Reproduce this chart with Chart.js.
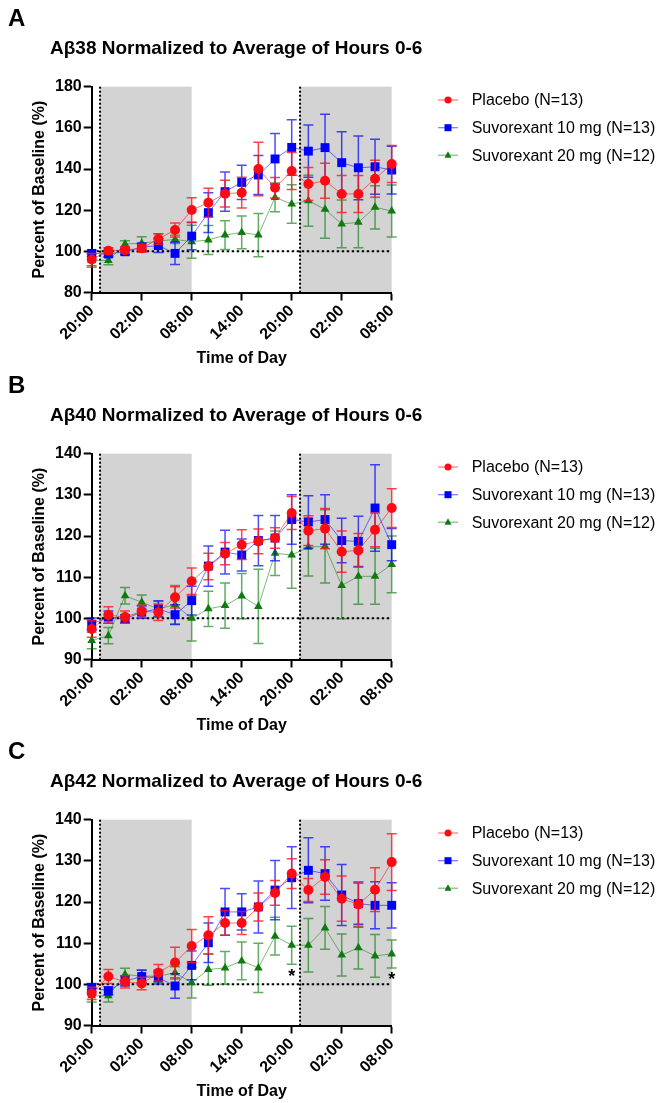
<!DOCTYPE html>
<html>
<head>
<meta charset="utf-8">
<title>Abeta normalized</title>
<script src="https://cdn.jsdelivr.net/npm/chart.js@4.4.0/dist/chart.umd.min.js"></script>
<style>
  body { margin: 0; background: #fff; }
  #page { position: relative; width: 659px; height: 1103px; font-family: 'Liberation Sans', Arial, sans-serif; color: #000; }
  .panel { position: absolute; left: 0; width: 659px; height: 367px; }
  .letter { position: absolute; left: 8px; top: 6px; font-size: 24px; line-height: 24px; font-weight: bold; }
  .title { position: absolute; left: 50px; top: 38px; font-size: 19px; line-height: 19px; font-weight: bold; white-space: nowrap; }
  .panel canvas { position: absolute; left: 0; top: 0; }
</style>
</head>
<body>
<div id="page">
  <div class="panel" style="top:0px">
    <canvas id="chartA" width="659" height="367"></canvas>
    <div class="letter">A</div>
    <div class="title">Aβ38 Normalized to Average of Hours 0-6</div>
  </div>
  <div class="panel" style="top:366.7px">
    <canvas id="chartB" width="659" height="367"></canvas>
    <div class="letter">B</div>
    <div class="title">Aβ40 Normalized to Average of Hours 0-6</div>
  </div>
  <div class="panel" style="top:733.3px">
    <canvas id="chartC" width="659" height="367"></canvas>
    <div class="letter">C</div>
    <div class="title">Aβ42 Normalized to Average of Hours 0-6</div>
  </div>
</div>

<script>
// hours after 20:00, one sample every 2 h
var hours = [0, 2, 4, 6, 8, 10, 12, 14, 16, 18, 20, 22, 24, 26, 28, 30, 32, 34, 36];
var xTickLabels = ['20:00', '02:00', '08:00', '14:00', '20:00', '02:00', '08:00'];
var seriesNames = ['Placebo (N=13)', 'Suvorexant 10 mg (N=13)', 'Suvorexant 20 mg (N=12)'];
var nights = [[1, 12], [25, 36]];
var lightsOff = [1, 25];
var baselineLevel = 100;

// A - Abeta38
var ab38Placebo    = [96, 100.3, 100.6, 101.5, 106, 110.4, 120.1, 123.6, 128, 128.5, 140, 130.9, 139, 132.7, 134.3, 127.9, 127.9, 135.3, 142.4];
var ab38PlaceboErr = [3, 1.5, 1.5, 2, 2.5, 3.4, 6, 7, 6.5, 7.5, 13, 5, 9, 8, 8.5, 9, 9, 9, 9];
var ab38Suvo10     = [99, 98.7, 99.8, 102, 102.8, 99, 107.4, 118.8, 129, 133.5, 137.1, 144.9, 150.5, 148.7, 150.4, 143.1, 140.6, 141.1, 139.5];
var ab38Suvo10Err  = [1.5, 1.5, 1.5, 2, 3.4, 5.4, 6.6, 9.7, 9.5, 8.3, 9.5, 12.3, 13.5, 12.7, 16.2, 15, 15.5, 13.4, 11.6];
var ab38Suvo20     = [95.5, 95.5, 103.6, 103.9, 105, 105.8, 104.7, 105.5, 107.9, 109.2, 107.9, 126.2, 123, 124.6, 120.4, 113.3, 114.1, 121.4, 119.6];
var ab38Suvo20Err  = [3.2, 2, 1.5, 3.2, 3.5, 2, 8, 7, 7, 8, 10.5, 7, 9.3, 12.4, 14, 11.6, 12.4, 10.5, 12.6];

// B - Abeta40
var ab40Placebo    = [97.4, 100.8, 100.3, 101.7, 101.5, 105.1, 109, 112.6, 115.7, 117.9, 118.7, 119.5, 125.6, 121.3, 121.8, 116.2, 116.5, 121.5, 126.8];
var ab40PlaceboErr = [2, 2, 1.5, 1.5, 2, 2.6, 3.2, 3.2, 2.7, 3.6, 3, 2.5, 4, 3.6, 4.9, 5, 4.1, 4.1, 4.7];
var ab40Suvo10     = [98.6, 100.3, 99.9, 101.5, 102.3, 100.9, 104.3, 112.7, 116.1, 115.4, 118.9, 119.5, 124, 123.4, 124, 118.9, 118.7, 126.8, 117.9];
var ab40Suvo10Err  = [1.5, 1.5, 1, 1.5, 2, 2.4, 3.5, 4.9, 5.3, 3.9, 6.1, 5.5, 6, 6.4, 6, 5.4, 6.1, 10.5, 3.9];
var ab40Suvo20     = [94.6, 95.8, 105.5, 103.9, 102.3, 103.3, 100, 102.3, 103.1, 105.4, 102.9, 115.8, 115.4, 117.3, 117.5, 108, 110.2, 110.2, 113.1];
var ab40Suvo20Err  = [2, 2, 2, 1.8, 1.8, 4.7, 5.5, 4.3, 5.5, 5.5, 9, 5.4, 8.1, 7, 8.9, 8.1, 6.8, 6.8, 6.9];

// C - Abeta42
var ab42Placebo    = [97.8, 101.9, 100.6, 100.2, 102.8, 105.3, 109.3, 111.9, 114.9, 114.9, 118.8, 122.2, 126.9, 122.9, 126.1, 120.8, 119.4, 123, 129.7];
var ab42PlaceboErr = [1.5, 1.7, 1.5, 1.5, 2, 3.7, 4, 4.5, 3, 2.8, 3.4, 3, 3.6, 2.8, 4.2, 5.5, 5.5, 5.3, 6.9];
var ab42Suvo10     = [99.2, 98.4, 100.8, 101.9, 101.6, 99.6, 104.6, 110.1, 117.6, 117.6, 118.8, 122.9, 125.9, 127.7, 126.9, 121.7, 119.6, 119.2, 119.2];
var ab42Suvo10Err  = [1, 1, 1.2, 1.5, 1.5, 3, 3.5, 4.8, 5.7, 4.4, 6.3, 7.2, 7.5, 7.9, 6.5, 7.4, 5, 5.7, 5.5];
var ab42Suvo20     = [97.2, 97.2, 102.4, 102, 102, 102.8, 100.4, 103.6, 104, 105.7, 104, 111.7, 109.5, 109.5, 113.7, 107.1, 108.9, 106.9, 107.4];
var ab42Suvo20Err  = [1.5, 1.5, 1.5, 1.5, 1.5, 1.5, 3.7, 3.8, 4, 4.6, 6, 4.6, 4.6, 6.5, 5.2, 5.1, 5.2, 5.2, 3.4];
var ab42SigHours   = [24, 36];
var ab42SigLevels  = [102.9, 102.2];

var fontFam = "'Liberation Sans', Arial, sans-serif";
Chart.defaults.font.family = fontFam;
Chart.defaults.color = '#000';

var styles = [
  { point: '#ff0a14', line: 'rgba(255,0,0,0.55)', err: 'rgba(255,20,30,0.8)', shape: 'circle', r: 5 },
  { point: '#0000ff', line: 'rgba(0,0,255,0.55)', err: 'rgba(0,0,255,0.7)', shape: 'rect', r: 6.3 },
  { point: '#107a10', line: 'rgba(16,128,16,0.55)', err: 'rgba(16,128,16,0.65)', shape: 'triangle', r: 5 }
];

function toPoints(vals) {
  return hours.map(function (h, i) { return { x: h, y: vals[i] }; });
}

// gray night boxes + dotted reference lines
var nightPlugin = {
  id: 'night',
  beforeDraw: function (chart) {
    var xs = chart.scales.x, ys = chart.scales.y, ctx = chart.ctx, a = chart.chartArea;
    ctx.save();
    ctx.fillStyle = '#d3d3d3';
    nights.forEach(function (n) {
      var x1 = xs.getPixelForValue(n[0]), x2 = xs.getPixelForValue(n[1]);
      ctx.fillRect(x1, a.top, x2 - x1, a.bottom - a.top);
    });
    ctx.strokeStyle = '#000';
    ctx.lineWidth = 2;
    ctx.setLineDash([2, 2]);
    lightsOff.forEach(function (h) {
      var x = xs.getPixelForValue(h);
      ctx.beginPath();
      ctx.moveTo(x, a.top);
      ctx.lineTo(x, a.bottom);
      ctx.stroke();
    });
    var y = ys.getPixelForValue(baselineLevel);
    ctx.setLineDash([2.5, 2.5]);
    ctx.beginPath();
    ctx.moveTo(xs.getPixelForValue(hours[0]), y);
    ctx.lineTo(xs.getPixelForValue(hours[hours.length - 1]), y);
    ctx.stroke();
    ctx.restore();
  }
};

// SEM whiskers, drawn just under each series
var errorBarPlugin = {
  id: 'errorBars',
  beforeDatasetDraw: function (chart, args) {
    var ds = chart.data.datasets[args.index];
    if (!ds.errors) return;
    var xs = chart.scales.x, ys = chart.scales.y, ctx = chart.ctx;
    ctx.save();
    ctx.strokeStyle = ds.errorColor;
    ctx.lineWidth = 1.5;
    ds.data.forEach(function (p, i) {
      var e = ds.errors[i];
      var px = xs.getPixelForValue(p.x);
      var top = ys.getPixelForValue(p.y + e), bot = ys.getPixelForValue(p.y - e);
      ctx.beginPath();
      ctx.moveTo(px, top); ctx.lineTo(px, bot);
      ctx.moveTo(px - 5, top); ctx.lineTo(px + 5, top);
      ctx.moveTo(px - 5, bot); ctx.lineTo(px + 5, bot);
      ctx.stroke();
    });
    ctx.restore();
  }
};

function drawMarker(ctx, shape, x, y, r) {
  ctx.beginPath();
  if (shape === 'circle') {
    ctx.arc(x, y, r, 0, Math.PI * 2);
  } else if (shape === 'rect') {
    ctx.rect(x - r, y - r, 2 * r, 2 * r);
  } else {
    ctx.moveTo(x, y - r * 1.1);
    ctx.lineTo(x + r, y + r * 0.7);
    ctx.lineTo(x - r, y + r * 0.7);
    ctx.closePath();
  }
  ctx.fill();
}

// legend to the right of the plot: short line + marker + name
var sideLegendPlugin = {
  id: 'sideLegend',
  afterDraw: function (chart) {
    var ctx = chart.ctx, a = chart.chartArea;
    var rows = [13.3, 41, 68.5];
    ctx.save();
    ctx.font = '16px ' + fontFam;
    ctx.textBaseline = 'middle';
    ctx.fillStyle = '#000';
    chart.data.datasets.forEach(function (ds, i) {
      if (!ds.errors) return;
      var y = a.top + rows[i];
      var x0 = a.right + 46.3;
      ctx.strokeStyle = ds.borderColor;
      ctx.lineWidth = 1.2;
      ctx.beginPath();
      ctx.moveTo(x0, y);
      ctx.lineTo(x0 + 20, y);
      ctx.stroke();
      ctx.fillStyle = ds.pointBackgroundColor;
      drawMarker(ctx, styles[i].shape, x0 + 10, y, 3.5);
      ctx.fillStyle = '#000';
      ctx.fillText(ds.label, a.right + 80, y + 1);
    });
    ctx.restore();
  }
};

// significance stars
var sigPlugin = {
  id: 'sig',
  afterDatasetsDraw: function (chart, args, opts) {
    if (!opts.hours) return;
    var xs = chart.scales.x, ys = chart.scales.y, ctx = chart.ctx;
    ctx.save();
    ctx.font = 'bold 18px ' + fontFam;
    ctx.textAlign = 'center';
    ctx.textBaseline = 'alphabetic';
    ctx.fillStyle = '#000';
    opts.hours.forEach(function (h, i) {
      ctx.fillText('*', xs.getPixelForValue(h), ys.getPixelForValue(opts.levels[i]) + 10);
    });
    ctx.restore();
  }
};

function makeChart(id, yMin, yMax, yStep, series, errs, sig) {
  var datasets = series.map(function (vals, i) {
    var st = styles[i];
    return {
      label: seriesNames[i],
      data: toPoints(vals),
      errors: errs[i],
      errorColor: st.err,
      borderColor: st.line,
      borderWidth: 1,
      backgroundColor: st.point,
      pointBackgroundColor: st.point,
      pointBorderColor: st.point,
      pointBorderWidth: 0,
      pointStyle: st.shape,
      pointRadius: st.r,
      tension: 0,
      clip: false
    };
  });

  var tickFont = { size: 16, weight: 'bold', family: fontFam };

  return new Chart(document.getElementById(id), {
    type: 'line',
    data: { datasets: datasets },
    options: {
      responsive: false,
      animation: false,
      devicePixelRatio: 1,
      layout: { padding: { left: 29.7, top: 86.7, right: 267.3, bottom: 0 } },
      plugins: {
        legend: { display: false },
        tooltip: { enabled: false },
        sig: sig || {}
      },
      scales: {
        x: {
          type: 'linear',
          min: 0,
          max: 36,
          ticks: {
            stepSize: 6,
            autoSkip: false,
            maxRotation: 45,
            minRotation: 45,
            padding: 1,
            font: tickFont,
            callback: function (v, i) { return xTickLabels[i]; }
          },
          grid: { drawOnChartArea: false, tickLength: 8, tickWidth: 2, color: '#000' },
          border: { color: '#000', width: 2 },
          title: { display: true, text: 'Time of Day', font: { size: 16, weight: 'bold', lineHeight: 1 }, padding: 0 },
          afterFit: function (s) { s.height = 74.5; }
        },
        y: {
          type: 'linear',
          min: yMin,
          max: yMax,
          ticks: { stepSize: yStep, padding: 2, font: tickFont },
          grid: { drawOnChartArea: false, tickLength: 8, tickWidth: 2, color: '#000' },
          border: { color: '#000', width: 2 },
          title: { display: true, text: 'Percent of Baseline (%)', font: { size: 16, weight: 'bold', lineHeight: 1 }, padding: { top: 2.3, bottom: 0 } },
          afterFit: function (s) { s.width = 62; }
        }
      }
    },
    plugins: [nightPlugin, errorBarPlugin, sideLegendPlugin, sigPlugin]
  });
}

makeChart('chartA', 80, 180, 20,
  [ab38Placebo, ab38Suvo10, ab38Suvo20],
  [ab38PlaceboErr, ab38Suvo10Err, ab38Suvo20Err]);

makeChart('chartB', 90, 140, 10,
  [ab40Placebo, ab40Suvo10, ab40Suvo20],
  [ab40PlaceboErr, ab40Suvo10Err, ab40Suvo20Err]);

makeChart('chartC', 90, 140, 10,
  [ab42Placebo, ab42Suvo10, ab42Suvo20],
  [ab42PlaceboErr, ab42Suvo10Err, ab42Suvo20Err],
  { hours: ab42SigHours, levels: ab42SigLevels });
</script>
</body>
</html>
